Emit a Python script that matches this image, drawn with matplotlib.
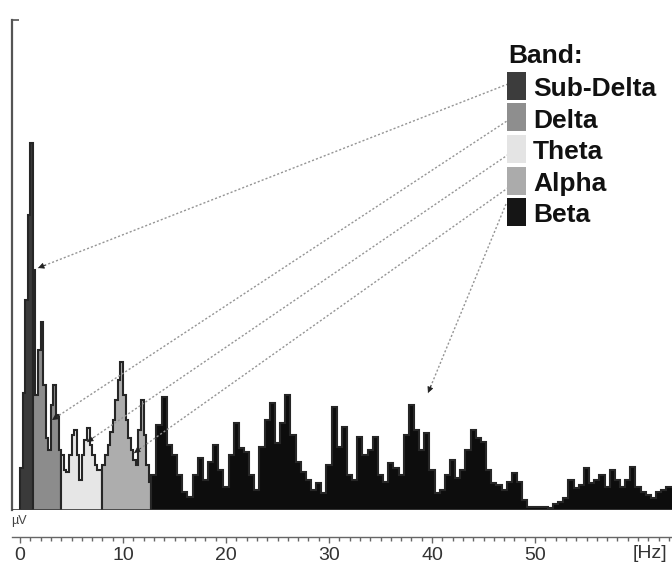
import numpy as np
import matplotlib
matplotlib.use("Agg")
import matplotlib.pyplot as plt
from matplotlib.patches import Rectangle, FancyArrowPatch
from matplotlib.lines import Line2D
from matplotlib.ticker import MultipleLocator

plt.rcParams['font.family'] = ['Liberation Sans', 'DejaVu Sans']

# ---------------- data (µV) ----------------
band_names = ["Sub-Delta", "Delta", "Theta", "Alpha", "Beta"]
band_colors = ["#3a3a3a", "#8c8c8c", "#e6e6e6", "#adadad", "#0d0d0d"]
legend_colors = ["#3c3c3c", "#8e8e8e", "#e4e4e4", "#ababab", "#151515"]
band_start = [0.0, 1.25, 4.0, 8.0, 12.75]     # Hz
band_step = [0.25, 0.25, 0.25, 0.25, 0.5]    # Hz resolution

subdelta = [4.2, 11.7, 21.0, 29.5, 36.7]
delta = [24.0, 11.5, 16.0, 18.8, 12.5, 7.2, 6.0, 10.5, 12.5, 9.5, 6.0]
theta = [5.5, 4.0, 3.8, 5.5, 7.5, 8.0, 5.5, 3.0, 5.5, 7.0, 8.2, 6.5, 5.5, 4.5, 4.0, 4.0]
alpha = [4.5, 5.5, 6.5, 7.8, 9.0, 11.0, 13.0, 14.8, 11.5, 9.0, 7.2, 6.0, 5.0, 4.5,
         8.0, 11.0, 7.5, 4.5, 2.8]
beta = [3.5, 8.5, 11.3, 6.5, 5.5, 3.5, 1.8, 1.3, 3.5, 5.2,
        3.0, 4.8, 6.5, 4.0, 2.3, 5.5, 8.7, 6.2, 5.8, 3.5,
        2.0, 6.3, 9.0, 10.7, 6.7, 8.7, 11.5, 7.5, 4.8, 3.8,
        3.0, 2.0, 2.7, 1.7, 4.5, 10.3, 6.3, 8.3, 3.5, 3.0,
        7.3, 5.5, 6.0, 7.3, 3.5, 2.8, 4.7, 4.2, 3.5, 7.5,
        10.5, 8.0, 6.0, 7.7, 4.0, 1.7, 2.0, 3.5, 5.0, 3.2,
        4.0, 6.0, 8.0, 7.2, 6.8, 4.0, 2.7, 2.5, 2.0, 2.8,
        3.7, 2.8, 1.0, 0.3, 0.3, 0.3, 0.3, 0.2, 0.6, 0.8,
        1.2, 3.0, 2.2, 2.5, 4.2, 2.7, 3.0, 3.5, 2.3, 4.0,
        3.0, 2.3, 3.0, 4.3, 2.3, 1.8, 1.5, 1.2, 1.8, 2.0,
        2.3, 2.3]
band_values = [subdelta, delta, theta, alpha, beta]

xticks = [0, 10, 20, 30, 40, 50]
x_unit_label = "[Hz]"
y_unit_label = "µV"

# ---------------- layout ----------------
W, H = 672, 570
fig = plt.figure(figsize=(W / 100, H / 100), dpi=100)
fig.patch.set_facecolor("white")

px_per_hz = 10.3
ax = fig.add_axes([12 / W, 60 / H, 660 / W, 490 / H])
ax.set_xlim(-8 / px_per_hz, 652 / px_per_hz)
ax.set_ylim(0, 49)

for vals, start, step, col in zip(band_values, band_start, band_step, band_colors):
    edges = start + step * np.arange(len(vals) + 1)
    ax.stairs(vals, edges, fill=True, facecolor=col, edgecolor="#262626",
              linewidth=1.5, baseline=0, zorder=2)

for s in ["top", "right", "bottom"]:
    ax.spines[s].set_visible(False)
ax.spines["left"].set_color("#555555")
ax.spines["left"].set_linewidth(1.6)
ax.set_xticks([])
ax.set_yticks([49])
ax.set_yticklabels([])
ax.tick_params(axis="y", direction="in", length=5, color="#555555", width=1.2)
ax.axhline(0, color="#3a3a3a", lw=1.2, zorder=3)

# ruler axis below
ax2 = fig.add_axes([12 / W, (H - 537) / H, 660 / W, 0.0001])
ax2.set_xlim(ax.get_xlim())
ax2.patch.set_visible(False)
for s in ["top", "left", "right"]:
    ax2.spines[s].set_visible(False)
ax2.spines["bottom"].set_color("#666666")
ax2.spines["bottom"].set_linewidth(1.0)
ax2.set_yticks([])
ax2.set_xticks(xticks)
ax2.set_xticklabels([str(t) for t in xticks])
ax2.xaxis.set_minor_locator(MultipleLocator(1))
ax2.tick_params(axis="x", which="major", length=4, width=1, color="#666666",
                labelsize=14, labelcolor="#333333", pad=3)
ax2.tick_params(axis="x", which="minor", length=3, width=1, color="#666666")

fig.text(650 / W, 1 - 553 / H, x_unit_label, ha="center", va="center",
         fontsize=14, color="#333333")
fig.text(11 / W, 1 - 521 / H, y_unit_label, ha="left", va="center",
         fontsize=9, color="#444444")

# legend (manual)
fig.text(508 / W, 1 - 63 / H, "Band:", ha="left", va="baseline", fontsize=19,
         fontweight="bold", color="#111111")
row_top0, row_step, sq_h, sq_w = 72, 31.5, 28, 19
for i, (name, col) in enumerate(zip(band_names, legend_colors)):
    top = row_top0 + row_step * i
    fig.add_artist(Rectangle((507 / W, 1 - (top + sq_h) / H), sq_w / W, sq_h / H,
                             transform=fig.transFigure, facecolor=col,
                             edgecolor="none", zorder=5))
    fig.text(533 / W, 1 - (top + 24) / H, name, ha="left", va="baseline",
             fontsize=19, fontweight="bold", color="#111111", zorder=6)

# pointer lines from legend to the bands
starts = [(508, 84), (510, 119), (512, 152), (512, 185), (506, 204)]
ends = [(38, 268), (52, 420), (87, 442), (134, 453), (428, 393)]
for (xs, ys), (xe, ye) in zip(starts, ends):
    fig.add_artist(Line2D([xs / W, xe / W], [1 - ys / H, 1 - ye / H],
                          transform=fig.transFigure, color="#949494",
                          lw=1.0, linestyle=(0, (1.5, 1.5)), zorder=4))
    d = np.hypot(xe - xs, ye - ys)
    bx = xe + (xs - xe) * 8 / d
    by = ye + (ys - ye) * 8 / d
    fig.add_artist(FancyArrowPatch(
        (bx / W, 1 - by / H), (xe / W, 1 - ye / H), transform=fig.transFigure,
        arrowstyle="-|>", mutation_scale=9, color="#222222", lw=0.6,
        shrinkA=0, shrinkB=0, zorder=4))

fig.savefig("out.png", dpi=100)
